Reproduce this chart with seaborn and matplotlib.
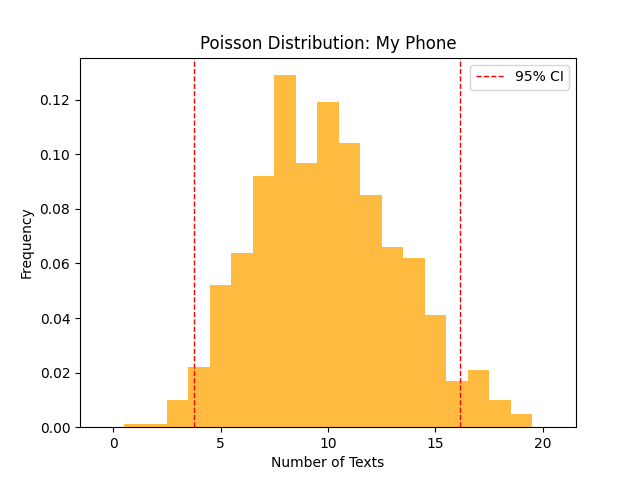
import matplotlib
matplotlib.use("Agg")
import matplotlib.pyplot as plt
import pandas as pd
import seaborn as sns

# bin centres (number of texts) and relative frequency
texts = list(range(0, 21))
freq = [0.0, 0.001, 0.001, 0.010, 0.022, 0.052, 0.064, 0.092, 0.129, 0.097, 0.119,
        0.104, 0.085, 0.066, 0.062, 0.041, 0.017, 0.021, 0.010, 0.005, 0.0]
ci_low, ci_high = 3.75, 16.15

df = pd.DataFrame({"texts": texts, "freq": freq})

fig, ax = plt.subplots(figsize=(6.4, 4.8), dpi=100)
sns.histplot(data=df, x="texts", weights="freq", bins=21, binrange=(-0.5, 20.5),
             color="orange", alpha=0.75, edgecolor="none", linewidth=0, ax=ax)
ax.axvline(ci_low, color="red", linestyle="--", linewidth=1, label="95% CI")
ax.axvline(ci_high, color="red", linestyle="--", linewidth=1)
ax.set_title("Poisson Distribution: My Phone")
ax.set_xlabel("Number of Texts")
ax.set_ylabel("Frequency")
ax.legend(loc="upper right")
fig.savefig("out.png")
